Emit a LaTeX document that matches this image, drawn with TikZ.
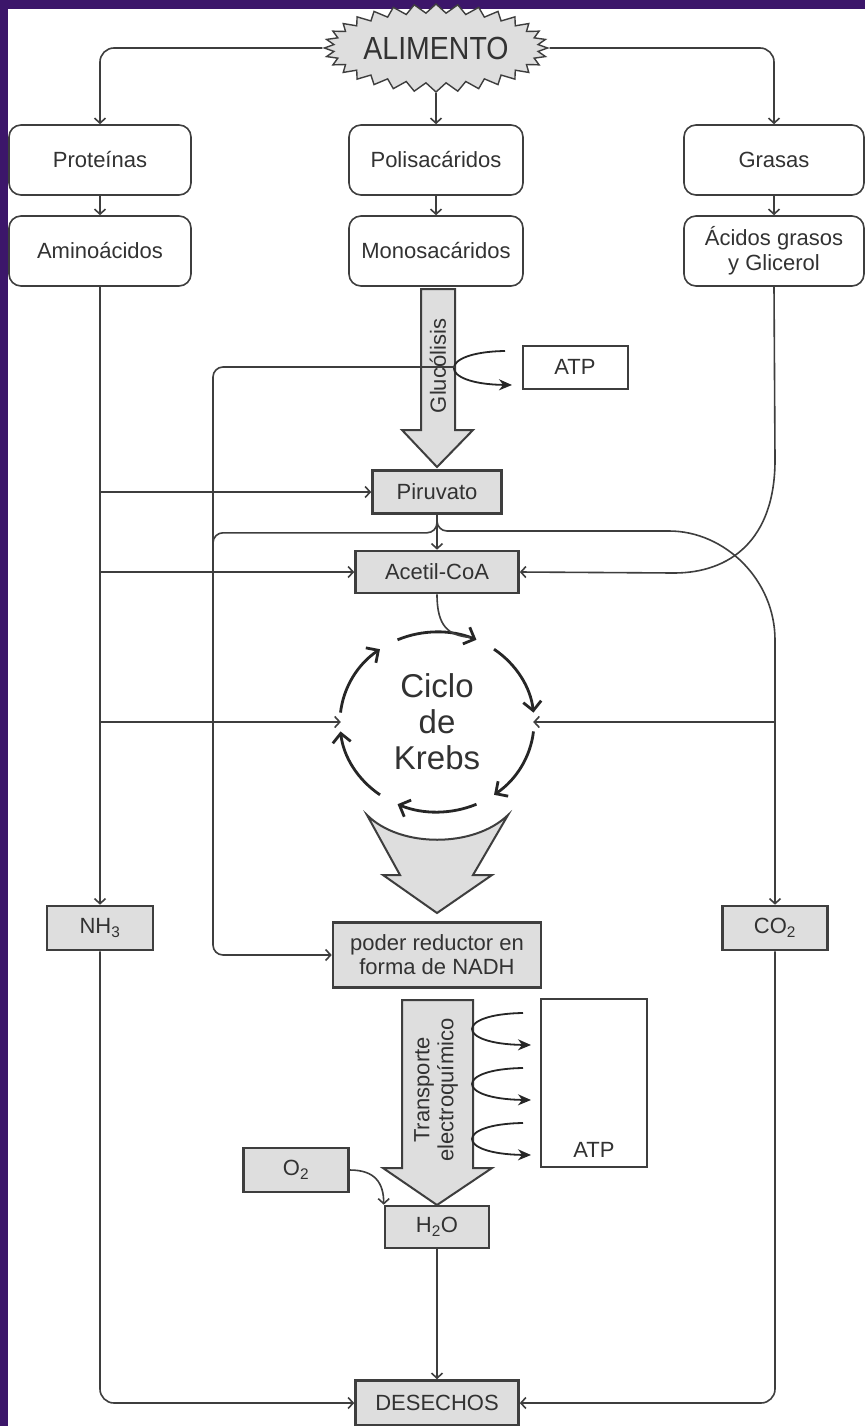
\documentclass[tikz,border=0pt]{standalone}
\usepackage{fontspec}
\setmainfont{Liberation Sans}
\newfontfamily\estrecha[FakeStretch=0.89]{Liberation Sans}
\usetikzlibrary{arrows.meta,shapes.symbols,positioning}

\definecolor{fondo}{RGB}{60,22,106}
\definecolor{gris}{RGB}{222,222,222}
\definecolor{trazo}{RGB}{62,62,62}
\definecolor{texto}{RGB}{50,50,50}

\tikzset{
  redondeada/.style={draw=trazo, line width=1.6pt, rounded corners=12pt, fill=white,
    minimum width=182pt, minimum height=70pt, text=texto, align=center,
    font=\fontsize{22}{25}\selectfont},
  caja/.style={draw=trazo, line width=2.6pt, fill=gris, text=texto, align=center,
    inner sep=0pt, font=\fontsize{22}{24}\selectfont},
  blanca/.style={caja, fill=white, line width=2pt},
  flecha/.style={draw=trazo, line width=1.6pt, -{Straight Barb[length=5pt,width=11pt]}},
  linea/.style={draw=trazo, line width=1.6pt},
  curva/.style={draw=black!85, line width=1.8pt, -{Stealth[length=13pt,width=11pt]}},
  ciclo/.style={draw=black!85, line width=2.8pt, -{Straight Barb[length=9pt,width=18pt]}},
  flechota/.style={draw=trazo, line width=2pt, fill=gris, line join=miter},
}

\begin{document}
\begin{tikzpicture}[x=1pt, y=-1pt]
  % fondo
  \fill[fondo] (0,0) rectangle (865,1426);
  \fill[white] (8,9) rectangle (865,1426);
  \useasboundingbox (0,0) rectangle (865,1426);

  % alimento y grupos
  \node[starburst, starburst points=32, starburst point height=9pt, random starburst=0,
    draw=trazo, line width=1.4pt, fill=gris, inner sep=0pt, minimum width=223pt,
    minimum height=88pt, text=texto, font=\estrecha\fontsize{32}{34}\selectfont] (alimento) at (436,48) {ALIMENTO};

  \node[redondeada] (prot) at (100,160) {Proteínas};
  \node[redondeada] (amino) at (100,251) {Aminoácidos};
  \node[redondeada, minimum width=174pt] (poli) at (436,160) {Polisacáridos};
  \node[redondeada, minimum width=174pt] (mono) at (436,251) {Monosacáridos};
  \node[redondeada, minimum width=180pt] (grasas) at (774,160) {Grasas};
  \node[redondeada, minimum width=180pt] (acidos) at (774,251) {Ácidos grasos\\y Glicerol};

  \draw[flecha, rounded corners=14pt] (alimento.west) -| (prot.north);
  \draw[flecha, rounded corners=14pt] (alimento.east) -| (grasas.north);
  \draw[flecha] (alimento.south) -- (poli.north);
  \draw[flecha] (prot) -- (amino);
  \draw[flecha] (poli) -- (mono);
  \draw[flecha] (grasas) -- (acidos);

  % cajas grises
  \node[caja, minimum width=129pt, minimum height=43pt] (piru) at (437,492) {Piruvato};
  \node[caja, minimum width=163pt, minimum height=42pt] (acetil) at (437,572) {Acetil-CoA};
  \node[caja, minimum width=106pt, minimum height=44pt] (nh3) at (100,928) {NH\textsubscript{3}};
  \node[caja, minimum width=105pt, minimum height=44pt] (co2) at (775,928) {CO\textsubscript{2}};
  \node[caja, minimum width=208pt, minimum height=65pt] (nadh) at (437,955) {poder reductor en\\forma de NADH};
  \node[caja, minimum width=105pt, minimum height=44pt] (o2) at (296,1170) {O\textsubscript{2}};
  \node[caja, minimum width=104pt, minimum height=42pt] (h2o) at (437,1227) {H\textsubscript{2}O};
  \node[caja, minimum width=163pt, minimum height=45pt] (desechos) at (437,1403) {DESECHOS};
  \node[blanca, minimum width=105pt, minimum height=43pt] (atp1) at (575,367) {ATP};
  \node[blanca, minimum width=106pt, minimum height=168pt,
    label={[anchor=base, yshift=11pt, text=texto, font=\fontsize{22}{24}\selectfont]south:ATP}] (atp2) at (594,1083) {};

  % glucolisis
  \draw[flechota] (421,289) -- (455,289) -- (455,430) -- (473,430) -- (437,467)
    -- (402,430) -- (421,430) -- cycle;
  \node[rotate=90, text=texto, font=\fontsize{22}{24}\selectfont] (gluco) at (438,366) {Glucólisis};
  \draw[curva] (505,351) .. controls (437,352) and (437,384) .. (512,385);
  \coordinate (salida) at (455,367);
  \coordinate (codo) at (213,367);
  \draw[flecha, rounded corners=10pt] (salida) -- (codo) |- (nadh.west);

  % piruvato
  \coordinate (cruce) at ([yshift=-18pt]piru.south);
  \draw[flecha] (piru) -- (acetil);
  \draw[linea, rounded corners=10pt] (piru.south) |- (codo |- cruce) -- ++(0,40);
  \draw[flecha, rounded corners=10pt] (piru.south) |- (659,531)
    .. controls (725,531) and (775,580) .. (775,650) -- (co2.north);
  \draw[flecha] (acidos.south) -- (775,460) .. controls (775,540) and (730,573)
    .. (674,573) -- (acetil.east);

  % lado izquierdo
  \draw[flecha] (amino) -- (nh3);
  \draw[flecha] (amino.south |- piru.west) -- (piru.west);
  \draw[flecha] (amino.south |- acetil.west) -- (acetil.west);

  % ciclo de Krebs
  \node[circle, minimum size=192pt, text=texto, align=center,
    font=\fontsize{33}{36}\selectfont] (krebs) at (437,722) {Ciclo\\de\\Krebs};
  \foreach \a [evaluate=\a as \s using \a-24, evaluate=\a as \e using \a+24] in {-90,-30,30,90,150,210}
    \draw[ciclo] ([shift={(\s:97 and 90)}]krebs.center) arc[start angle=\s, end angle=\e, x radius=97, y radius=90];
  \draw[linea] (acetil.south) .. controls +(0,32) and +(-22,-2) .. ([shift={(-70:97 and 90)}]krebs.center);
  \draw[flecha] (amino.south |- krebs.west) -- (krebs.west);
  \draw[flecha] (co2.north |- krebs.east) -- (krebs.east);

  \draw[flechota] (367,815) .. controls (400,848) and (474,848) .. (508,815) -- (473,875)
    -- (492,875) -- (437,913) -- (383,875) -- (400,875) -- cycle;

  % transporte electroquimico
  \draw[flechota] (402,1000) -- (473,1000) -- (473,1168) -- (492,1168) -- (437,1205)
    -- (383,1168) -- (402,1168) -- cycle;
  \node[rotate=90, align=center, text=texto, font=\fontsize{22}{24}\selectfont] (transporte)
    at (436,1090) {Transporte\\electroquímico};
  \foreach \y in {1028,1083,1138}
    \draw[curva] (523,\y-15) .. controls (455,\y-14) and (455,\y+16) .. (531,\y+17);

  % desechos
  \draw[flecha] (o2.east) .. controls +(25,0) and +(0,-22) .. (h2o.north west);
  \draw[flecha] (h2o) -- (desechos);
  \draw[flecha, rounded corners=14pt] (nh3.south) |- (desechos.west);
  \draw[flecha, rounded corners=14pt] (co2.south) |- (desechos.east);
\end{tikzpicture}
\end{document}
